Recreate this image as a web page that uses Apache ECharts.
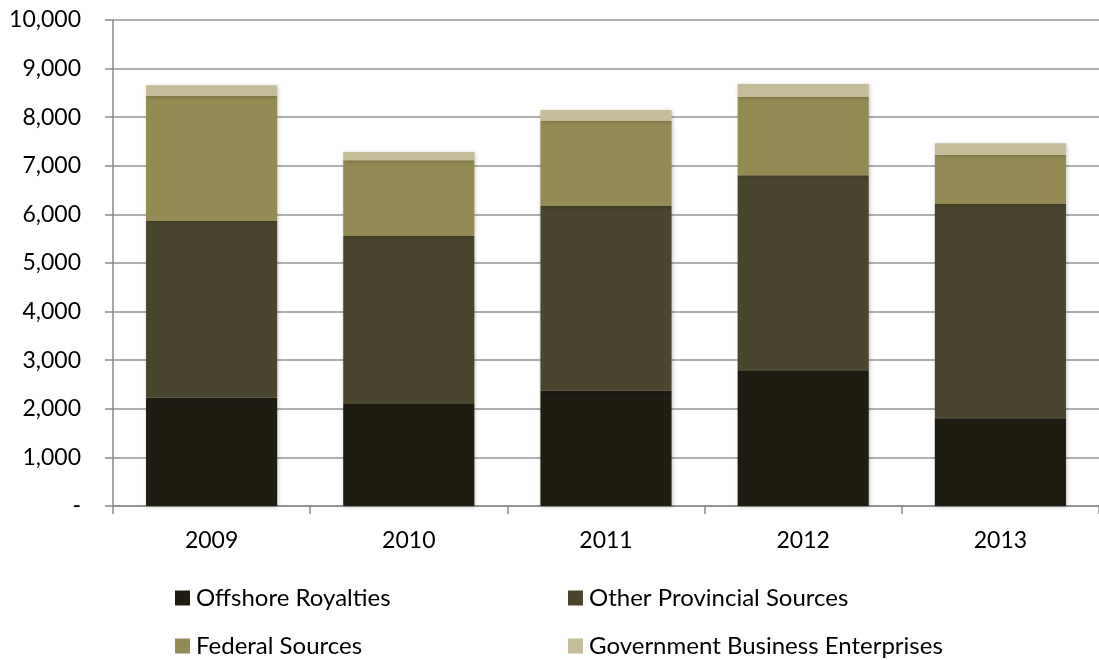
<!DOCTYPE html>
<html>
<head>
<meta charset="utf-8">
<script src="https://cdn.jsdelivr.net/npm/echarts@6/dist/echarts.min.js"></script>
<style>
  html, body { margin: 0; padding: 0; background: #ffffff; }
  #chart { width: 1099px; height: 660px; }
</style>
</head>
<body>
<div id="chart"></div>
<script>
// Revenue by source, stacked per fiscal year
const years = ['2009', '2010', '2011', '2012', '2013'];
const offshoreRoyalties = [2228, 2099, 2372, 2778, 1805];
const otherProvincial = [3636, 3457, 3801, 4027, 4409];
const federalSources = [2572, 1557, 1755, 1611, 1008];
const govBusiness = [220, 171, 220, 267, 241];
const yTicks = [0, 1000, 2000, 3000, 4000, 5000, 6000, 7000, 8000, 9000, 10000];

const seriesNames = ['Offshore Royalties', 'Other Provincial Sources', 'Federal Sources', 'Government Business Enterprises'];
const seriesColors = ['#1f1d12', '#4a452d', '#948a54', '#c4bd97'];
const seriesData = [offshoreRoyalties, otherProvincial, federalSources, govBusiness];

const FONT = 'Lato';
const FS = 23;
const LEGEND_FS = 24;

const chart = echarts.init(document.getElementById('chart'), null, { renderer: 'canvas' });

function legendAt(name, left, top) {
  return {
    data: [name],
    left: left,
    top: top,
    orient: 'horizontal',
    padding: 0,
    itemWidth: 15,
    itemHeight: 15,
    itemGap: 0,
    icon: 'rect',
    selectedMode: false,
    textStyle: { fontFamily: FONT, fontSize: LEGEND_FS, color: '#000', lineHeight: 24, padding: [0, 0, 0, 1] }
  };
}

chart.setOption({
  animation: false,
  backgroundColor: '#ffffff',
  textStyle: { fontFamily: FONT },
  grid: { left: 113, top: 20, width: 992, height: 486, containLabel: false },
  legend: [
    legendAt(seriesNames[0], 175, 586),
    legendAt(seriesNames[1], 568, 586),
    legendAt(seriesNames[2], 175, 634),
    legendAt(seriesNames[3], 568, 634)
  ],
  xAxis: {
    type: 'category',
    data: years,
    boundaryGap: true,
    axisLine: { show: true, lineStyle: { color: '#8a8a8a', width: 1.5 } },
    axisTick: { show: true, length: 8, lineStyle: { color: '#8a8a8a', width: 1.5 } },
    axisLabel: { fontFamily: FONT, fontSize: FS, color: '#000', margin: 23, lineHeight: 24 },
    splitLine: { show: false }
  },
  yAxis: {
    type: 'value',
    min: yTicks[0],
    max: yTicks[yTicks.length - 1],
    interval: yTicks[1] - yTicks[0],
    axisLine: { show: true, lineStyle: { color: '#8a8a8a', width: 1.5 } },
    axisTick: { show: true, length: 8, lineStyle: { color: '#8a8a8a', width: 1.5 } },
    axisLabel: {
      fontFamily: FONT, fontSize: FS, color: '#000', margin: 32,
      formatter: v => v === 0 ? '-' : v.toLocaleString('en-US')
    },
    splitLine: { show: true, lineStyle: { color: '#959595', width: 1.5 } }
  },
  series: seriesData.map((d, i) => ({
    name: seriesNames[i],
    type: 'bar',
    stack: 'total',
    data: d,
    barCategoryGap: '33.5%',
    itemStyle: {
      color: seriesColors[i],
      shadowBlur: 4,
      shadowColor: 'rgba(0,0,0,0.22)',
      shadowOffsetX: 1,
      shadowOffsetY: 1
    },
    emphasis: { disabled: true }
  }))
});
</script>
</body>
</html>
